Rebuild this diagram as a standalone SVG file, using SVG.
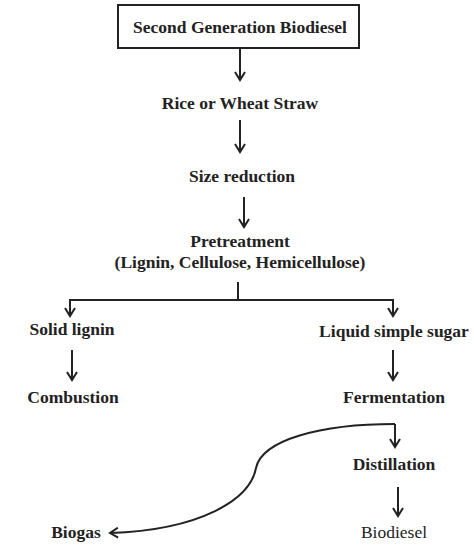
<svg xmlns="http://www.w3.org/2000/svg" width="474" height="549" viewBox="0 0 474 549">
<style>
text{font-family:"Liberation Serif","Times New Roman",serif;font-size:17.5px;fill:#222;text-anchor:middle}
.b{font-weight:bold}
.c{fill:none;stroke:#222;stroke-width:2}
</style>
<defs>
<marker id="ah" viewBox="0 0 12 12" refX="10" refY="6" markerWidth="12" markerHeight="12" markerUnits="userSpaceOnUse" orient="auto">
<path d="M2,1 L10,6 L2,11" fill="none" stroke="#222" stroke-width="2"/>
</marker>
</defs>
<rect width="474" height="549" fill="#fff"/>
<g id="n1"><rect x="118" y="5" width="241" height="43" fill="none" stroke="#222" stroke-width="2"/><text class="b" x="240" y="33">Second Generation Biodiesel</text></g>
<g id="n2"><text class="b" x="240" y="109">Rice or Wheat Straw</text></g>
<g id="n3"><text class="b" x="242" y="182">Size reduction</text></g>
<g id="n4"><text class="b" x="240" y="247">Pretreatment</text><text class="b" x="240" y="268">(Lignin, Cellulose, Hemicellulose)</text></g>
<g id="n5"><text class="b" x="72" y="335">Solid lignin</text></g>
<g id="n6"><text class="b" x="394" y="337">Liquid simple sugar</text></g>
<g id="n7"><text class="b" x="73" y="403">Combustion</text></g>
<g id="n8"><text class="b" x="394" y="403">Fermentation</text></g>
<g id="n9"><text class="b" x="394" y="470">Distillation</text></g>
<g id="n10"><text class="b" x="76" y="538">Biogas</text></g>
<g id="n11"><text x="394" y="538">Biodiesel</text></g>
<g id="connectors">
<path class="c" d="M240,48 V80" marker-end="url(#ah)"/>
<path class="c" d="M240,120 V152" marker-end="url(#ah)"/>
<path class="c" d="M244,197 V227" marker-end="url(#ah)"/>
<path class="c" d="M238,282 V300"/>
<path class="c" d="M70,316 V300 H393 V316" />
<path class="c" d="M70,306 V316" marker-end="url(#ah)"/>
<path class="c" d="M393,306 V316" marker-end="url(#ah)"/>
<path class="c" d="M72,350 V380" marker-end="url(#ah)"/>
<path class="c" d="M393,350 V380" marker-end="url(#ah)"/>
<path class="c" d="M395,424 V447" marker-end="url(#ah)"/>
<path class="c" d="M395,424 C320,424 262,440 256,468 C250,500 200,530 110,533" marker-end="url(#ah)"/>
<path class="c" d="M398,487 V516" marker-end="url(#ah)"/>
</g>
</svg>
